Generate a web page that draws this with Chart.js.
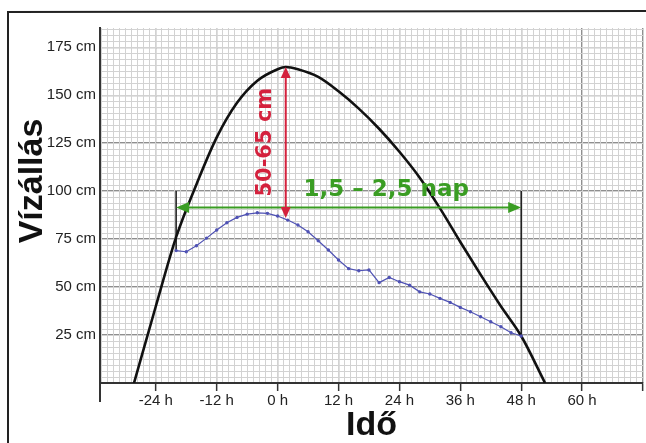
<!DOCTYPE html>
<html>

<head>
  <title>Vízállás</title>
  <script src="https://cdn.jsdelivr.net/npm/chart.js@4/dist/chart.umd.min.js"></script>

  <style>
    body {
      margin: 0;
      background-color: white
    }

    .chart-container {
      width: 646px;
      height: 443px;
    }
  </style>
</head>

<body>

  <div class="chart-container">
    <canvas id="levelChart"></canvas>
  </div>

  <script>
    // x tengely: órák, y tengely: cm
    const hourTicks = [-24, -12, 0, 12, 24, 36, 48, 60, 72];
    const levelTicks = [25, 50, 75, 100, 125, 150, 175];

    // árhullám burkológörbe
    const curveHours = [-28.3, -24, -20, -16, -12, -8, -4, 0, 1.6, 4, 8, 12, 16, 20, 24, 28, 32, 36, 40, 44, 48, 52.7];
    const curveLevels = [0, 40, 76, 103.5, 128, 146, 157.5, 163.5, 164.7, 163.5, 159.5, 152, 143, 132.5, 120.5, 107, 91, 73.5, 56.5, 40, 24.5, 0];

    // mért vízállás, 2 óránként
    const gaugeHours = [-20, -18, -16, -14, -12, -10, -8, -6, -4, -2, 0, 2, 4, 6, 8, 10, 12, 14, 16, 18, 20, 22, 24, 26, 28, 30, 32, 34, 36, 38, 40, 42, 44, 46, 48];
    const gaugeLevels = [69, 68.4, 71.5, 75.5, 79.7, 83.5, 86.3, 88, 88.7, 88.4, 87, 84.9, 82.3, 78.8, 74.1, 69.3, 64.1, 59.6, 58.5, 58.9, 52.3, 55, 52.8, 51, 47.5, 46.4, 44.1, 42, 39.4, 37.1, 34.5, 31.9, 29.3, 26.2, 24.5];

    // jelölések
    const spanStart = -20, spanEnd = 48, spanLevel = 91.5, spanTop = 100;
    const riseHour = 1.6, riseLow = 86, riseHigh = 164.7;

    const xMin = -35, xMax = 72, yMin = 0, yMax = 185;

    function toPoints(xs, ys) {
      return xs.map((x, i) => ({ x: x, y: ys[i] }));
    }

    function range(step, min, max) {
      const out = [];
      for (let i = Math.ceil(min / step - 1e-9); i * step <= max + 1e-9; i++) {
        out.push(+(i * step).toFixed(4));
      }
      return out;
    }

    function arrowHead(ctx, x, y, dx, dy, len, half, color) {
      ctx.fillStyle = color;
      ctx.beginPath();
      ctx.moveTo(x, y);
      ctx.lineTo(x - dx * len - dy * half, y - dy * len + dx * half);
      ctx.lineTo(x - dx * len + dy * half, y - dy * len - dx * half);
      ctx.closePath();
      ctx.fill();
    }

    const extras = {
      id: 'extras',
      beforeDraw(chart) {
        const ctx = chart.ctx;
        const a = chart.chartArea;
        ctx.save();
        // keret
        ctx.strokeStyle = '#222';
        ctx.lineWidth = 2;
        ctx.beginPath();
        ctx.moveTo(a.left - 92, chart.height);
        ctx.lineTo(a.left - 92, a.top - 16);
        ctx.lineTo(chart.width, a.top - 17);
        ctx.stroke();
        ctx.restore();
      },
      afterDatasetsDraw(chart) {
        const ctx = chart.ctx;
        const xs = chart.scales.x, ys = chart.scales.y;
        const a = chart.chartArea;
        ctx.save();

        // y tengely lefelé meghosszabbítva
        ctx.strokeStyle = '#333';
        ctx.lineWidth = 2;
        ctx.beginPath();
        ctx.moveTo(a.left, a.bottom);
        ctx.lineTo(a.left, a.bottom + 19);
        ctx.stroke();

        // zöld nyíl: időtartam
        const green = '#3a9d23';
        const gy = ys.getPixelForValue(spanLevel);
        const gx1 = xs.getPixelForValue(spanStart), gx2 = xs.getPixelForValue(spanEnd);
        ctx.strokeStyle = green;
        ctx.lineWidth = 2;
        ctx.beginPath();
        ctx.moveTo(gx1 + 8, gy);
        ctx.lineTo(gx2 - 8, gy);
        ctx.stroke();
        arrowHead(ctx, gx1, gy, -1, 0, 13, 5.5, green);
        arrowHead(ctx, gx2, gy, 1, 0, 13, 5.5, green);

        // piros nyíl: áradás mértéke
        const red = '#d4213d';
        const rx = xs.getPixelForValue(riseHour);
        const ry1 = ys.getPixelForValue(riseHigh), ry2 = ys.getPixelForValue(riseLow);
        ctx.strokeStyle = red;
        ctx.beginPath();
        ctx.moveTo(rx, ry1 + 8);
        ctx.lineTo(rx, ry2 - 8);
        ctx.stroke();
        arrowHead(ctx, rx, ry1, 0, -1, 11, 5, red);
        arrowHead(ctx, rx, ry2, 0, 1, 11, 5, red);

        // feliratok
        ctx.font = 'bold 23px "DejaVu Sans", sans-serif';
        ctx.fillStyle = green;
        ctx.textAlign = 'center';
        ctx.textBaseline = 'middle';
        ctx.fillText('1,5 – 2,5 nap', xs.getPixelForValue(21.4), ys.getPixelForValue(100.5));

        ctx.save();
        ctx.translate(xs.getPixelForValue(-2.4), ys.getPixelForValue(125.5));
        ctx.rotate(-Math.PI / 2);
        ctx.font = 'bold 21px "DejaVu Sans", sans-serif';
        ctx.fillStyle = red;
        ctx.fillText('50-65 cm', 0, 0);
        ctx.restore();

        // y tengely címe
        ctx.save();
        ctx.translate(a.left - 67, a.top + 153);
        ctx.rotate(-Math.PI / 2);
        ctx.font = 'bold 34px "Liberation Sans", Arial, sans-serif';
        ctx.fillStyle = '#111';
        ctx.fillText('Vízállás', 0, 0);
        ctx.restore();

        ctx.restore();
      }
    };

    const tickFont = { family: '"Liberation Sans", Arial, sans-serif', size: 15 };

    const ctx = document.getElementById('levelChart').getContext('2d');
    new Chart(ctx, {
      type: 'line',
      data: {
        datasets: [
          {
            label: 'mért',
            data: toPoints(gaugeHours, gaugeLevels),
            borderColor: '#4f52b4',
            backgroundColor: '#4f52b4',
            borderWidth: 1.2,
            pointRadius: 1.1,
            pointHoverRadius: 1.1,
            tension: 0
          },
          {
            label: 'burkoló',
            data: toPoints(curveHours, curveLevels),
            borderColor: '#111',
            borderWidth: 2.6,
            pointRadius: 0,
            cubicInterpolationMode: 'monotone'
          },
          {
            label: 'kezdet',
            data: toPoints([spanStart, spanStart], [spanTop, gaugeLevels[0]]),
            borderColor: '#222',
            borderWidth: 1.6,
            pointRadius: 0
          },
          {
            label: 'vég',
            data: toPoints([spanEnd, spanEnd], [spanTop, gaugeLevels[gaugeLevels.length - 1]]),
            borderColor: '#222',
            borderWidth: 1.6,
            pointRadius: 0
          }
        ]
      },
      options: {
        responsive: true,
        maintainAspectRatio: false,
        animation: false,
        events: [],
        layout: {
          padding: { left: 0, top: 28, right: 3, bottom: 0 }
        },
        plugins: {
          legend: { display: false },
          tooltip: { enabled: false }
        },
        scales: {
          x: {
            type: 'linear',
            min: xMin,
            max: xMax,
            afterBuildTicks: function (scale) {
              scale.ticks = hourTicks.map(v => ({ value: v }));
            },
            afterFit: function (scale) {
              scale.height = 60;
            },
            ticks: {
              padding: 1,
              color: '#222',
              font: tickFont,
              maxRotation: 0,
              callback: function (value) {
                return value === xMax ? '' : value + ' h';
              }
            },
            grid: {
              color: '#8f8f8f',
              lineWidth: 1.3,
              tickLength: 8,
              tickColor: '#333',
              tickWidth: 1.5
            },
            border: { color: '#333', width: 2 },
            title: {
              display: true,
              text: 'Idő',
              color: '#111',
              padding: 0,
              font: { family: '"Liberation Sans", Arial, sans-serif', size: 34, weight: 'bold', lineHeight: 1 }
            }
          },
          y: {
            min: yMin,
            max: yMax,
            afterBuildTicks: function (scale) {
              scale.ticks = levelTicks.map(v => ({ value: v }));
            },
            afterFit: function (scale) {
              scale.width = 100;
            },
            ticks: {
              padding: 4,
              color: '#222',
              font: tickFont,
              callback: function (value) {
                return value + ' cm';
              }
            },
            grid: {
              color: '#8f8f8f',
              lineWidth: 1.3,
              drawTicks: false
            },
            border: { color: '#333', width: 2 }
          },
          xMinor: {
            type: 'linear',
            position: 'bottom',
            min: xMin,
            max: xMax,
            z: -1,
            afterBuildTicks: function (scale) {
              scale.ticks = range(1.2, xMin, xMax).map(v => ({ value: v }));
            },
            afterFit: function (scale) {
              scale.height = 0;
            },
            ticks: { display: false },
            grid: { color: '#d2d2d2', lineWidth: 1, borderDash: [2, 1], drawTicks: false },
            border: { display: false }
          },
          yMinor: {
            type: 'linear',
            position: 'left',
            min: yMin,
            max: yMax,
            z: -1,
            afterBuildTicks: function (scale) {
              scale.ticks = range(25 / 8, yMin, yMax).map(v => ({ value: v }));
            },
            afterFit: function (scale) {
              scale.width = 0;
            },
            ticks: { display: false },
            grid: { color: '#d2d2d2', lineWidth: 1, borderDash: [2, 1], drawTicks: false },
            border: { display: false }
          }
        }
      },
      plugins: [extras]
    });
  </script>
</body>

</html>
